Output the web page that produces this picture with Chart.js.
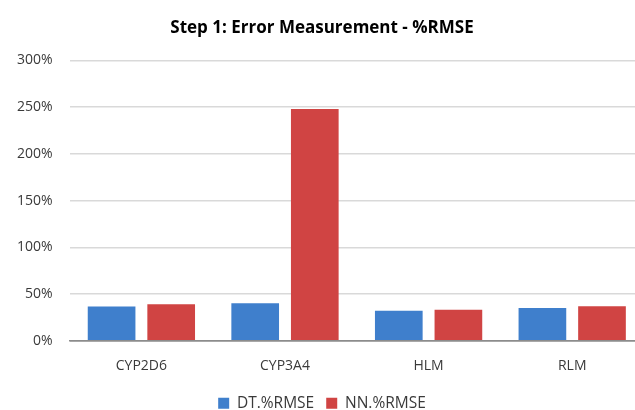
<!DOCTYPE html>
<html>
<head>
<meta charset="utf-8">
<script src="https://cdn.jsdelivr.net/npm/chart.js@4"></script>
<style>
  html, body { margin: 0; padding: 0; background: #fff; overflow: hidden; }
  #wrap { width: 635px; height: 410px; overflow: hidden; }
</style>
</head>
<body>
<div id="wrap"><canvas id="rmseChart" width="646" height="413"></canvas></div>
<script>
// donnees
const categories = ['CYP2D6', 'CYP3A4', 'HLM', 'RLM'];
const dtRmse = [36.5, 40, 32, 35];
const nnRmse = [39, 248, 33, 37];
const yTicks = [0, 50, 100, 150, 200, 250, 300];

const ctx = document.getElementById('rmseChart').getContext('2d');
const chart = new Chart(ctx, {
  type: 'bar',
  data: {
    labels: categories,
    datasets: [
      {
        label: 'DT.%RMSE',
        data: dtRmse,
        backgroundColor: '#3f7fcc',
        categoryPercentage: 0.83,
        barPercentage: 0.8
      },
      {
        label: 'NN.%RMSE',
        data: nnRmse,
        backgroundColor: '#d04443',
        categoryPercentage: 0.83,
        barPercentage: 0.8
      }
    ]
  },
  options: {
    responsive: false,
    animation: false,
    layout: { padding: { left: 0, right: 2, top: 8, bottom: -8 } },
    scales: {
      x: {
        grid: { display: false },
        border: { color: '#8c8c8c', width: 1.5 },
        ticks: { color: '#3a3a3a', font: { family: 'Open Sans', size: 14 }, padding: 9 }
      },
      y: {
        min: 0,
        max: 300,
        afterBuildTicks: (axis) => { axis.ticks = yTicks.map(v => ({ value: v })); },
        grid: {
          color: (c) => c.tick && c.tick.value === 0 ? '#8c8c8c' : '#d9d9d9',
          lineWidth: 1.5,
          drawTicks: false
        },
        border: { display: false },
        ticks: {
          color: '#3a3a3a',
          font: { family: 'Open Sans', size: 14 },
          padding: 17,
          callback: (v) => v + '%'
        }
      }
    },
    plugins: {
      title: {
        display: true,
        text: 'Step 1: Error Measurement - %RMSE',
        color: '#000',
        font: { family: 'Open Sans', size: 17, weight: 'bold' },
        padding: { top: 10, bottom: 22 }
      },
      legend: {
        position: 'bottom',
        labels: {
          color: '#3a3a3a',
          font: { family: 'Open Sans', size: 15.5 },
          boxWidth: 11,
          boxHeight: 11,
          padding: 12
        }
      },
      tooltip: { enabled: false }
    }
  }
});
</script>
</body>
</html>
